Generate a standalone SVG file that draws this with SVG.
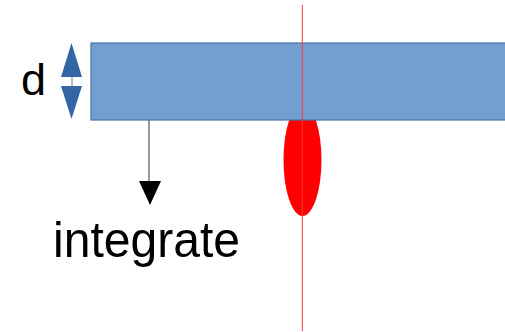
<svg xmlns="http://www.w3.org/2000/svg" width="505" height="332" viewBox="0 0 505 332">
<style>
.lbl{font-family:"Liberation Sans",Arial,sans-serif;fill:#000}
.blue{fill:#3465a4}
</style>
<rect width="505" height="332" fill="#fff"/>
<g id="drop">
<ellipse cx="302.5" cy="160" rx="19" ry="56" fill="#ff0000"/>
</g>
<g id="bar">
<rect x="91" y="43" width="420" height="77" fill="#729fcf" stroke="#4a74ad" stroke-width="1.2"/>
</g>
<g id="axis">
<line x1="302.3" y1="5" x2="302.3" y2="331" stroke="#ff3333" stroke-width="1"/>
</g>
<g id="thickness">
<path class="blue" d="M71.5,43 L82,77 L61,77 Z"/>
<path class="blue" d="M61,86 L82,86 L71.5,119 Z"/>
<line x1="72" y1="77" x2="72" y2="86" stroke="#5b7fa8" stroke-width="1"/>
</g>
<g id="label-d">
<text class="lbl" x="21" y="94.5" font-size="45">d</text>
</g>
<g id="connectors">
<line x1="149" y1="120" x2="149" y2="183" stroke="#555" stroke-width="1.2"/>
<path d="M139,181 L161,181 L150,205 Z" fill="#000"/>
</g>
<g id="label-integrate">
<text class="lbl" x="53" y="256.7" font-size="50" textLength="187" lengthAdjust="spacingAndGlyphs">integrate</text>
</g>
</svg>
